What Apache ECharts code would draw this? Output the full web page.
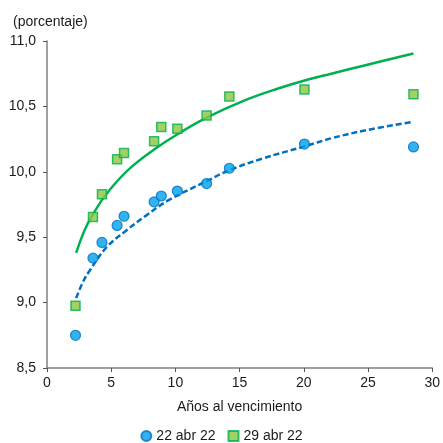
<!DOCTYPE html>
<html>
<head>
<meta charset="utf-8">
<script src="https://cdn.jsdelivr.net/npm/echarts@6/dist/echarts.min.js"></script>
<style>
  html, body { margin: 0; padding: 0; background: #fff; }
  #chart { width: 443px; height: 443px; }
</style>
</head>
<body>
<div id="chart"></div>
<script>
// puntos observados (años al vencimiento, tasa %)
var plazos = [2.22, 3.58, 4.28, 5.46, 6.0, 8.34, 8.9, 10.15, 12.43, 14.2, 20.05, 28.54];
var tasas22abr = [8.75, 9.34, 9.46, 9.59, 9.66, 9.77, 9.815, 9.853, 9.91, 10.027, 10.212, 10.19];
var tasas29abr = [8.976, 9.655, 9.828, 10.095, 10.143, 10.233, 10.342, 10.329, 10.43, 10.576, 10.63, 10.592];

// curvas ajustadas
var curva29X = [2.27, 2.94, 3.58, 4.36, 5.39, 6.67, 8.48, 10.29, 12.47, 15.44, 18.0, 20.34, 22.14, 24.72, 28.54];
var curva29 = [9.38, 9.556, 9.675, 9.795, 9.92, 10.045, 10.18, 10.295, 10.416, 10.548, 10.637, 10.706, 10.75, 10.813, 10.905];
var curva22X = [2.27, 2.81, 3.33, 4.61, 6.16, 7.71, 9.51, 12.47, 14.15, 16.73, 20.08, 22.14, 24.72, 28.54];
var curva22 = [9.034, 9.16, 9.245, 9.42, 9.55, 9.665, 9.785, 9.93, 10.01, 10.1, 10.195, 10.256, 10.315, 10.383];

var ticksX = [0, 5, 10, 15, 20, 25, 30];
var ticksY = [8.5, 9.0, 9.5, 10.0, 10.5, 11.0];

function pares(xs, ys) {
    return xs.map(function (x, i) { return [x, ys[i]]; });
}

var fuente = 'Liberation Sans, Arial, sans-serif';
var myChart = echarts.init(document.getElementById('chart'));

myChart.setOption({
    animation: false,
    textStyle: { fontFamily: fuente },
    grid: { left: 47, right: 8, top: 41, bottom: 75 },
    graphic: [{
        type: 'text', left: 13, top: 15,
        style: { text: '(porcentaje)', font: '14px ' + fuente, fill: '#1a1a1a' }
    }],
    legend: {
        bottom: 0, left: 'center', padding: [0, 5],
        itemWidth: 10, itemHeight: 10, itemGap: 12,
        textStyle: { fontSize: 14, color: '#1a1a1a', fontFamily: fuente },
        data: [
            { name: '22 abr 22', icon: 'circle' },
            { name: '29 abr 22', icon: 'rect' }
        ]
    },
    xAxis: {
        type: 'value', min: ticksX[0], max: ticksX[ticksX.length - 1], interval: 5,
        name: 'Años al vencimiento', nameLocation: 'middle', nameGap: 32,
        nameTextStyle: { fontSize: 14, color: '#1a1a1a' },
        axisLine: { lineStyle: { color: '#808080', width: 1.5 } },
        axisTick: { show: true, length: 4, lineStyle: { color: '#555' } },
        axisLabel: { fontSize: 14, color: '#1a1a1a', margin: 8 },
        splitLine: { show: false }
    },
    yAxis: {
        type: 'value', min: ticksY[0], max: ticksY[ticksY.length - 1], interval: 0.5,
        axisLine: { show: true, lineStyle: { color: '#808080', width: 1.5 } },
        axisTick: { show: true, length: 4, lineStyle: { color: '#555' } },
        axisLabel: {
            fontSize: 14, color: '#1a1a1a', margin: 11,
            formatter: function (v) { return v.toFixed(1).replace('.', ','); }
        },
        splitLine: { show: false }
    },
    series: [
        {
            name: 'ajuste 29', type: 'line', smooth: 0.4, showSymbol: false, z: 2,
            lineStyle: { color: '#00B050', width: 2.5 },
            data: pares(curva29X, curva29)
        },
        {
            name: 'ajuste 22', type: 'line', smooth: 0.4, showSymbol: false, z: 2,
            lineStyle: { color: '#0070C0', width: 2.5, type: [6, 3] },
            data: pares(curva22X, curva22)
        },
        {
            name: '22 abr 22', type: 'scatter', symbol: 'circle', symbolSize: 10, z: 3,
            itemStyle: { color: '#00A0E9', borderColor: '#0070C0', borderWidth: 1.2 },
            data: pares(plazos, tasas22abr)
        },
        {
            name: '29 abr 22', type: 'scatter', symbol: 'rect', symbolSize: 9, z: 3,
            itemStyle: { color: '#8DC63F', borderColor: '#00B050', borderWidth: 1.5 },
            data: pares(plazos, tasas29abr)
        }
    ]
});
</script>
</body>
</html>
